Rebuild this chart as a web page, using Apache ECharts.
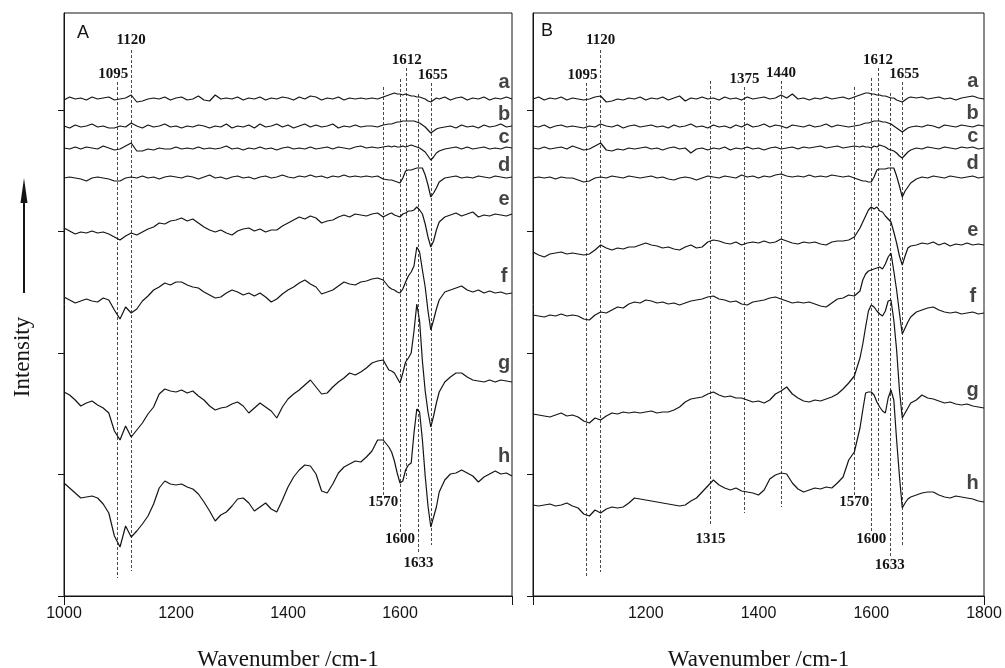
<!DOCTYPE html>
<html>
<head>
<meta charset="utf-8">
<script src="https://cdn.jsdelivr.net/npm/echarts@6/dist/echarts.min.js"></script>
<style>html,body{margin:0;padding:0;background:#fff}#chart{width:1005px;height:668px}</style>
</head>
<body>
<div id="chart"></div>
<script>
// ---------------- DATA ----------------
const wavenumbers = [1000,1010,1020,1030,1040,1050,1060,1070,1080,1090,
1100,1110,1120,1130,1140,1150,1160,1170,1180,1190,
1200,1210,1220,1230,1240,1250,1260,1270,1280,1290,
1300,1310,1320,1330,1340,1350,1360,1370,1380,1390,
1400,1410,1420,1430,1440,1450,1460,1470,1480,1490,
1500,1510,1520,1530,1540,1550,1560,1570,1580,
1585,1590,1595,1600,1605,1610,1615,1620,1625,1630,1635,1640,1645,1650,1655,1660,1665,1670,
1680,1690,1700,1710,1720,1730,1740,1750,1760,1770,1780,1790,1800];

const traceNames = ['a','b','c','d','e','f','g','h'];

// Panel A spectra (arbitrary intensity units, offset stacked)
const A_a = [49.6,49.9,49.7,49.8,49.6,49.9,49.7,49.8,49.9,49.6,
49.7,49.8,50.1,49.4,49.5,49.7,49.8,49.7,49.9,49.6,
49.8,49.9,49.6,49.7,50.0,49.6,49.5,50.1,49.7,49.8,
49.7,49.9,49.6,49.8,49.7,49.9,49.6,49.8,49.7,49.9,
49.8,49.6,49.9,49.7,50.0,49.9,49.6,49.8,49.7,49.9,
49.6,49.8,49.7,49.8,49.7,49.8,49.7,49.9,50.1,
50.2,50.3,50.2,50.2,50.1,50.2,50.1,50.0,50.0,49.9,49.9,49.8,49.7,49.5,49.4,49.6,49.8,49.7,
49.9,49.6,49.8,49.9,49.6,49.8,49.7,49.9,49.6,49.8,49.7,49.9,49.7];
const A_b = [47.0,46.8,47.1,46.9,47.0,47.2,46.9,47.0,46.8,46.8,
47.0,46.9,47.3,47.0,46.8,47.1,46.9,47.0,47.2,46.9,
47.0,46.8,47.0,46.9,47.1,47.0,46.8,47.0,46.9,47.2,
46.8,47.0,46.9,47.1,46.8,47.2,46.9,47.0,47.2,46.9,
47.1,46.8,47.0,47.2,46.9,47.1,46.9,47.0,47.2,46.8,
47.0,46.9,47.1,46.9,47.0,47.0,46.9,47.1,47.2,
47.2,47.3,47.4,47.4,47.5,47.5,47.5,47.5,47.5,47.4,47.3,47.1,46.9,46.6,46.3,46.5,46.7,46.8,
46.9,47.0,46.8,47.1,46.9,47.0,46.8,47.1,46.9,47.0,47.2,46.9,47.0];
const A_c = [44.8,44.7,44.9,44.7,44.9,44.8,44.7,45.0,44.8,44.6,
44.7,45.0,45.3,44.5,44.5,44.7,44.6,44.8,44.7,44.7,
44.9,44.7,44.8,44.7,44.9,44.7,44.8,44.7,44.8,45.0,
44.7,44.8,44.6,44.8,44.7,44.9,44.7,44.8,44.6,44.8,
44.9,44.7,44.8,44.7,44.9,44.7,44.8,44.9,44.7,44.9,
44.8,44.7,44.9,45.0,44.8,44.9,44.8,44.9,45.0,
44.9,45.0,44.9,44.9,45.0,44.9,45.0,45.1,45.0,44.9,44.8,44.6,44.4,44.0,43.6,43.9,44.3,44.5,
44.7,44.8,44.9,44.7,44.9,44.7,44.8,44.9,44.7,44.8,44.7,44.9,44.8];
const A_d = [41.8,41.9,41.8,41.7,41.5,41.8,41.9,41.8,41.7,41.5,
41.5,41.8,41.9,41.8,42.0,41.8,41.9,41.7,41.9,42.0,
41.9,41.8,42.0,41.9,41.7,41.9,42.1,41.8,41.9,41.7,
41.9,42.0,41.8,41.9,41.7,41.9,42.0,41.8,41.9,42.1,
41.9,41.8,42.0,41.9,42.1,41.9,42.0,41.8,42.0,41.9,
42.1,41.9,42.0,41.9,42.0,41.9,42.0,41.7,41.6,
41.6,41.5,41.4,41.3,41.8,42.5,42.6,42.6,42.7,42.8,42.8,42.8,42.1,41.1,39.9,40.3,40.8,41.4,
41.8,41.9,42.0,41.8,41.9,41.8,42.0,41.9,41.8,42.0,41.9,41.8,41.9];
const A_e = [36.8,36.5,36.2,36.4,36.3,36.5,36.3,36.4,36.2,35.9,
35.6,36.0,36.3,36.1,36.4,36.7,36.9,37.3,37.2,37.5,
37.6,37.8,37.5,37.7,37.3,36.9,36.6,36.4,36.6,36.3,
36.1,36.5,36.7,36.8,36.5,36.7,36.4,36.6,36.6,37.0,
37.3,37.6,37.9,37.7,38.0,37.8,37.3,37.5,37.6,37.9,
38.1,37.9,38.2,38.1,38.0,38.2,38.3,37.9,38.2,
38.3,38.1,38.0,37.9,38.2,38.3,38.5,38.5,38.6,38.9,38.6,38.2,37.2,35.9,34.9,35.5,36.6,37.4,
37.9,38.1,38.3,38.0,38.2,38.4,37.9,38.1,38.0,38.2,38.1,38.0,38.2];
const A_f = [29.9,29.6,29.3,29.5,29.7,29.5,29.4,29.8,29.6,28.6,
27.7,28.9,28.3,28.7,29.5,30.0,30.6,30.9,31.3,31.1,
31.4,31.4,31.1,30.9,30.8,30.4,30.1,29.8,29.9,30.3,
30.6,30.4,30.1,30.3,30.0,30.3,29.9,29.4,29.7,30.2,
30.6,30.9,31.3,31.6,31.2,30.9,30.2,30.4,30.6,31.0,
31.4,31.2,31.1,31.4,31.5,31.7,31.8,31.6,30.9,
30.7,30.6,30.4,30.3,30.7,31.4,32.0,32.4,33.0,34.9,34.4,32.6,30.9,28.5,26.6,27.6,28.7,29.6,
30.4,30.6,30.8,31.0,30.6,30.4,30.6,30.3,30.5,30.3,30.4,30.2,30.3];
const A_g = [20.4,20.1,19.6,19.0,19.3,19.5,19.1,18.8,18.3,16.5,
15.6,17.0,15.9,16.6,17.3,18.2,18.9,20.2,20.7,20.5,
20.4,20.6,20.3,20.5,20.0,19.6,19.0,18.6,18.8,18.9,
19.2,19.4,19.0,18.3,18.8,19.3,18.9,18.5,17.8,18.9,
19.7,20.2,20.6,21.1,21.6,20.9,20.2,20.3,20.9,21.4,
21.8,22.3,22.1,22.4,22.8,23.3,23.5,23.6,22.6,
22.5,22.3,21.8,21.3,22.3,23.4,23.8,24.3,26.5,29.2,27.5,23.5,20.5,18.4,16.9,18.0,19.3,20.4,
21.4,21.9,22.3,22.3,21.9,21.6,21.5,21.4,21.6,21.4,21.6,21.5,21.4];
const A_h = [11.3,10.8,10.3,9.8,9.9,10.0,9.8,9.2,8.3,6.0,
4.9,7.0,5.9,6.5,7.2,8.0,9.2,10.8,11.5,11.2,
11.1,11.2,10.9,10.7,10.2,9.4,8.5,7.5,8.1,8.4,
9.0,9.7,9.8,9.3,8.5,8.9,9.3,8.7,8.4,9.6,
10.9,11.9,12.6,13.1,13.0,12.2,10.5,10.3,11.2,12.3,
12.9,13.2,13.5,13.4,13.9,14.5,15.6,15.6,14.9,
14.4,13.5,12.3,11.3,11.5,12.6,13.1,13.3,16.3,18.7,18.4,15.6,12.0,9.0,6.9,7.9,8.9,10.4,
11.6,12.2,12.3,12.6,12.3,12.0,11.4,11.9,12.2,12.5,12.2,12.3,12.0];

// Panel B spectra
const B_a = [49.7,49.9,49.6,49.8,49.7,49.9,49.6,49.8,49.7,49.6,
49.7,49.9,50.0,49.4,49.5,49.7,49.6,49.8,49.7,49.9,
49.6,49.8,49.7,49.9,49.6,49.8,50.0,49.5,49.8,49.7,
49.9,49.7,49.8,49.6,49.9,49.7,49.8,49.6,49.9,49.7,
49.8,49.9,49.7,49.8,50.1,49.8,50.2,49.7,49.8,49.6,
49.8,49.7,49.9,49.7,49.8,49.9,49.7,49.9,50.1,
50.2,50.3,50.3,50.2,50.2,50.1,50.1,50.0,50.0,49.9,49.8,49.8,49.6,49.5,49.4,49.6,49.8,49.9,
49.8,49.9,49.7,49.8,49.9,49.7,49.8,49.6,49.8,49.9,50.0,49.8,49.7];
const B_b = [47.0,46.9,47.1,46.8,47.0,47.1,46.9,47.0,46.9,46.8,
47.0,46.9,47.2,47.0,46.9,47.1,46.8,47.0,47.1,46.9,
47.0,47.1,46.9,47.0,46.8,47.1,46.9,47.0,47.2,46.9,
47.0,46.8,47.1,46.9,47.0,46.8,47.1,46.9,47.2,46.9,
47.0,47.2,46.9,47.1,47.0,46.8,47.1,47.0,46.9,47.1,
46.9,47.0,47.2,46.9,47.1,47.0,46.9,47.0,47.1,
47.2,47.3,47.3,47.4,47.5,47.5,47.5,47.4,47.4,47.3,47.2,47.0,46.8,46.6,46.4,46.6,46.8,46.9,
47.0,46.9,47.1,47.0,46.8,47.1,47.0,46.9,47.1,47.0,46.9,47.1,47.0];
const B_c = [44.8,44.7,44.9,44.7,44.8,44.9,44.7,45.0,44.8,44.6,
44.7,45.0,45.3,44.6,44.5,44.7,44.6,44.8,44.7,44.8,
44.9,44.7,44.8,44.6,44.8,44.9,44.7,44.8,44.3,44.7,
44.8,44.6,44.8,44.7,44.9,44.6,44.8,44.7,44.9,44.7,
44.8,44.6,44.8,44.9,44.7,44.8,44.9,44.7,44.9,44.8,
44.9,45.0,44.8,44.9,45.0,44.8,44.9,45.0,44.9,
45.0,44.9,44.9,44.8,45.0,44.9,45.1,45.0,44.9,44.7,44.6,44.5,44.3,44.0,43.8,44.1,44.4,44.6,
44.8,44.7,44.9,44.8,44.7,44.9,44.8,44.7,44.9,44.8,44.9,44.7,44.8];
const B_d = [41.8,41.9,41.8,41.9,41.7,41.9,41.8,41.8,41.6,41.4,
41.5,41.8,41.9,41.8,42.0,41.9,41.8,42.0,41.9,41.8,
41.9,42.0,41.8,41.9,41.7,41.6,41.8,41.9,41.8,41.6,
41.8,42.0,41.9,41.8,42.0,41.9,41.8,42.1,41.9,42.0,
41.8,42.0,41.9,42.1,42.2,42.0,41.9,42.0,41.9,42.1,
41.9,42.0,41.9,42.1,42.0,41.9,42.0,41.8,41.6,
41.5,41.5,41.4,41.4,41.9,42.6,42.7,42.7,42.7,42.8,42.8,42.8,42.0,41.0,39.9,40.5,40.9,41.3,
41.7,41.9,41.8,42.0,41.9,41.8,42.0,41.9,41.8,41.9,42.0,41.8,41.9];
const B_e = [34.4,34.1,33.9,34.2,34.3,34.4,34.2,34.3,34.2,34.1,
34.2,34.6,35.1,34.8,34.6,34.8,34.7,34.9,34.9,35.1,
35.3,35.1,35.0,34.8,34.9,34.7,34.6,34.9,35.1,34.8,
34.9,35.4,35.6,35.5,35.3,35.2,35.4,35.1,35.3,35.4,
35.3,35.5,35.3,35.4,35.7,35.5,35.3,35.2,35.4,35.3,
35.4,35.2,35.1,35.4,35.5,35.5,35.6,35.9,36.8,
37.4,38.0,38.6,38.9,38.7,38.9,38.5,38.4,38.0,37.7,37.4,36.4,35.3,34.0,33.1,34.0,34.8,35.0,
35.1,35.3,35.2,35.4,35.1,35.3,35.0,35.2,35.1,35.3,35.1,35.2,35.1];
const B_f = [28.1,28.0,27.9,28.1,28.0,28.2,28.0,28.1,28.0,27.7,
27.6,28.1,28.4,28.3,28.6,28.9,28.8,29.2,29.4,29.3,
29.6,29.5,29.3,29.4,29.2,29.3,29.1,29.3,29.5,29.6,
29.7,29.9,30.0,29.7,29.6,29.4,29.5,29.2,29.1,29.4,
29.5,29.6,29.8,29.9,29.7,29.5,29.3,29.4,29.3,29.4,
29.2,29.0,28.9,29.3,29.7,29.8,30.1,30.0,30.5,
31.6,32.2,32.5,32.6,32.7,32.8,32.9,32.7,33.2,33.9,34.3,32.5,30.6,28.3,26.2,26.8,27.4,27.9,
28.4,28.6,28.8,28.9,28.6,28.4,28.3,28.4,28.2,28.3,28.4,28.2,28.3];
const B_g = [18.2,18.1,18.0,17.9,18.1,18.3,18.0,18.1,17.9,17.5,
17.3,17.8,17.6,18.0,18.3,18.2,18.4,18.3,18.4,18.3,
18.4,18.5,18.3,18.4,18.4,18.6,18.9,19.4,19.7,19.8,
19.9,20.2,20.4,20.1,19.9,20.0,19.8,19.8,19.6,19.4,
19.5,19.3,19.6,20.2,20.5,20.9,20.2,19.8,19.5,19.4,
19.6,19.5,19.7,19.9,20.2,20.7,21.3,22.0,23.8,
25.2,26.9,28.5,29.1,28.9,28.5,28.2,28.0,28.5,29.5,29.6,27.6,24.6,20.6,17.8,18.3,18.8,19.3,
19.6,20.1,19.8,19.7,19.5,19.3,19.4,19.2,19.1,19.2,19.0,18.9,18.8];
const B_h = [9.1,9.0,9.1,9.2,9.0,9.1,9.3,9.0,8.8,8.2,
8.0,8.6,8.3,8.7,8.9,8.8,8.9,9.3,9.8,9.7,
9.6,9.5,9.4,9.3,9.2,9.1,9.0,9.1,9.5,9.8,
10.4,11.0,11.6,11.1,10.8,10.6,10.8,10.5,10.4,10.3,
10.1,10.6,11.7,12.1,12.3,12.2,11.3,10.7,10.4,10.6,
10.8,10.7,10.9,10.8,11.3,11.9,13.6,14.4,16.8,
18.6,20.3,20.4,20.4,20.1,19.4,18.9,18.5,18.3,19.8,20.6,19.6,15.6,12.0,8.8,9.3,9.7,9.9,
10.1,10.3,10.4,10.4,10.1,9.9,9.8,10.0,9.9,9.8,9.7,9.5,9.4];

// Marked band positions (cm-1)
const bandsA = [1095, 1120, 1570, 1600, 1612, 1633, 1655];
const bandsB = [1095, 1120, 1315, 1375, 1440, 1570, 1600, 1612, 1633, 1655];

// X tick labels shown on each panel
const xTicksA = [1000, 1200, 1400, 1600];
const xTicksB = [1200, 1400, 1600, 1800];

// ---------------- LAYOUT (annotation placement, not data) ----------------
const bandLayoutA = {
  1095:{top:51.4,bot:1.8,pos:'start',dist:0,dx:-4}, 1120:{top:54.6,bot:2.5,pos:'start',dist:2,dx:0},
  1570:{top:50.9,bot:10.1,pos:'end',dist:0,dx:0}, 1600:{top:51.7,bot:6.4,pos:'end',dist:0,dx:0},
  1612:{top:52.8,bot:11.7,pos:'start',dist:0,dx:0}, 1633:{top:50.2,bot:4.4,pos:'end',dist:4,dx:0},
  1655:{top:51.3,bot:5.1,pos:'start',dist:0,dx:2}
};
const bandLayoutB = {
  1095:{top:51.3,bot:1.8,pos:'start',dist:0,dx:-4}, 1120:{top:54.6,bot:2.4,pos:'start',dist:2,dx:0},
  1315:{top:51.5,bot:7.1,pos:'end',dist:7,dx:0}, 1375:{top:50.9,bot:8.3,pos:'start',dist:0,dx:0},
  1440:{top:51.5,bot:8.9,pos:'start',dist:0,dx:0}, 1570:{top:50.9,bot:10.1,pos:'end',dist:0,dx:0},
  1600:{top:51.8,bot:6.4,pos:'end',dist:0,dx:0}, 1612:{top:52.8,bot:11.7,pos:'start',dist:0,dx:0},
  1633:{top:50.3,bot:3.9,pos:'end',dist:1,dx:0}, 1655:{top:51.4,bot:5.1,pos:'start',dist:0,dx:2}
};
const letterPosA = {x:1786, y:[51.4,48.2,45.9,43.1,39.7,32.0,23.3,14.0]};
const letterPosB = {x:1780, y:[51.5,48.3,46.0,43.3,36.6,30.0,20.6,11.3]};

const INK = '#141414';
const SERIF = '"Liberation Serif", "Times New Roman", serif';
const SANS = '"Liberation Sans", Arial, sans-serif';

function traceSeries(arrays, idx) {
  return arrays.map((vals, k) => ({
    type: 'line', name: traceNames[k], xAxisIndex: idx * 2, yAxisIndex: idx,
    data: wavenumbers.map((w, i) => [w, vals[i]]),
    showSymbol: false, symbol: 'none', silent: true, animation: false, z: 3,
    lineStyle: { color: INK, width: 1.2 }
  }));
}
function bandLines(bands, layout, idx) {
  return {
    type: 'line', data: [], xAxisIndex: idx * 2, yAxisIndex: idx, silent: true, animation: false,
    markLine: {
      silent: true, animation: false, symbol: ['none', 'none'], z: 2,
      lineStyle: { type: [3, 2], color: '#4a4a4a', width: 1 },
      data: bands.map(b => {
        const L = layout[b];
        return [
          { coord: [b, L.top], label: { show: true, position: L.pos, distance: L.dist, offset: [L.dx, 0],
            formatter: String(b), fontFamily: SERIF, fontWeight: 'bold', fontSize: 15, color: INK } },
          { coord: [b, L.bot] }
        ];
      })
    }
  };
}
function letterSeries(pos, idx) {
  return {
    type: 'scatter', xAxisIndex: idx * 2, yAxisIndex: idx, silent: true, animation: false,
    symbolSize: 1, itemStyle: { color: 'rgba(0,0,0,0)' },
    data: traceNames.map((n, k) => ({ name: n, value: [pos.x, pos.y[k]] })),
    label: { show: true, position: 'inside', formatter: '{b}', fontFamily: SANS, fontWeight: 'bold', fontSize: 20, color: INK }
  };
}

const seriesA = traceSeries([A_a, A_b, A_c, A_d, A_e, A_f, A_g, A_h], 0);
const seriesB = traceSeries([B_a, B_b, B_c, B_d, B_e, B_f, B_g, B_h], 1);

function mainX(gridIndex, shown) {
  return {
    type: 'value', gridIndex, min: 1000, max: 1800, interval: 200, position: 'bottom',
    axisLine: { show: true, lineStyle: { color: INK, width: 1 } },
    axisTick: { show: true, customValues: [1000, 1800], length: 9, lineStyle: { color: INK } },
    splitLine: { show: false },
    axisLabel: { show: true, margin: 10, fontFamily: SANS, fontSize: 16, color: INK,
      formatter: v => shown.indexOf(v) >= 0 ? String(v) : '' },
    name: 'Wavenumber /cm-1', nameLocation: 'middle', nameGap: 52,
    nameTextStyle: { fontFamily: SERIF, fontSize: 23, color: INK }
  };
}
function dummyX(gridIndex) {
  return { type: 'value', gridIndex, min: 1000, max: 1800, show: false };
}
function mainY(gridIndex) {
  return {
    type: 'value', gridIndex, min: 0, max: 58.3, interval: 12.15,
    axisLine: { show: true, lineStyle: { color: INK, width: 1 } },
    axisTick: { show: true, length: 6, customValues: [0, 12.15, 24.3, 36.45, 48.6], lineStyle: { color: INK } },
    axisLabel: { show: false }, splitLine: { show: false }
  };
}

const option = {
  backgroundColor: '#ffffff',
  animation: false,
  title: [
    { text: 'A', left: 77, top: 24, padding: 0, textStyle: { fontFamily: SANS, fontSize: 18, fontWeight: 'normal', color: INK } },
    { text: 'B', left: 541, top: 22, padding: 0, textStyle: { fontFamily: SANS, fontSize: 18, fontWeight: 'normal', color: INK } }
  ],
  grid: [
    { left: 64, right: 493, top: 13, bottom: 72, show: true, borderColor: INK, borderWidth: 1, backgroundColor: 'transparent', containLabel: false, outerBoundsMode: 'none' },
    { left: 533, right: 21, top: 13, bottom: 72, show: true, borderColor: INK, borderWidth: 1, backgroundColor: 'transparent', containLabel: false, outerBoundsMode: 'none' }
  ],
  xAxis: [mainX(0, xTicksA), dummyX(0), mainX(1, xTicksB), dummyX(1)],
  yAxis: [mainY(0), mainY(1)],
  graphic: [
    { type: 'line', shape: { x1: 24, y1: 293, x2: 24, y2: 198 }, style: { stroke: INK, lineWidth: 2 } },
    { type: 'polygon', shape: { points: [[24, 178], [20.5, 203], [27.5, 203]] }, style: { fill: INK } },
    { type: 'text', x: 23, y: 357, rotation: Math.PI / 2,
      style: { text: 'Intensity', font: '23px "Liberation Serif", serif', fill: INK, align: 'center', verticalAlign: 'middle' } }
  ],
  series: [].concat(seriesA, seriesB, [bandLines(bandsA, bandLayoutA, 0), bandLines(bandsB, bandLayoutB, 1), letterSeries(letterPosA, 0), letterSeries(letterPosB, 1)])
};

const chart = echarts.init(document.getElementById('chart'), null, { renderer: 'canvas' });
chart.setOption(option);
</script>
</body>
</html>
